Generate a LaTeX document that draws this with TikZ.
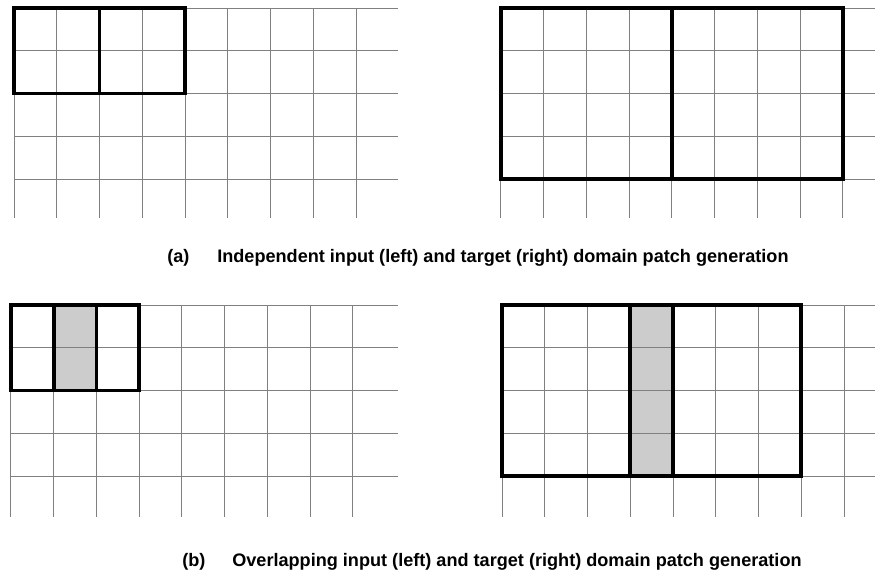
\documentclass[tikz,border=0pt]{standalone}
\usepackage{fontspec}
\setmainfont{Liberation Sans}
\tikzset{
  cell/.style={draw=black!50, line width=0.65pt},
  patch/.style={draw=black, line width=2.6pt},
  overlap/.style={fill=black!20},
  caption/.style={font=\fontsize{12.05}{14}\selectfont\bfseries, inner sep=0pt, anchor=base west}
}
\begin{document}
\begin{tikzpicture}
  \useasboundingbox (0,0) rectangle (20.468,-13.427);
  % (a) input grid with two separate patches
  \foreach \i in {0,...,8} \draw[cell] (0.328+\i,-0.187) -- (0.328+\i,-5.1);
  \foreach \j in {0,...,4} \draw[cell] (0.328,-0.187-\j) -- (9.31,-0.187-\j);
  \draw[patch] (0.328,-0.187) rectangle (4.328,-2.187);
  \draw[patch] (2.328,-0.187) -- (2.328,-2.187);
  % (a) target grid with two separate patches
  \foreach \i in {0,...,8} \draw[cell] (11.719+\i,-0.187) -- (11.719+\i,-5.1);
  \foreach \j in {0,...,4} \draw[cell] (11.719,-0.187-\j) -- (20.468,-0.187-\j);
  \draw[patch] (11.719,-0.187) rectangle (19.719,-4.187);
  \draw[patch] (15.719,-0.187) -- (15.719,-4.187);
  % caption (a)
  \node[caption] (tag-a) at (3.906,-6.152) {(a)};
  \node[caption] (cap-a) at (5.076,-6.152) {Independent input (left) and target (right) domain patch generation};
  % (b) input grid with overlapping patches
  \fill[overlap] (1.257,-7.135) rectangle (2.257,-9.135);
  \foreach \i in {0,...,8} \draw[cell] (0.257+\i,-7.135) -- (0.257+\i,-12.1);
  \foreach \j in {0,...,4} \draw[cell] (0.257,-7.135-\j) -- (9.31,-7.135-\j);
  \draw[patch] (0.257,-7.135) rectangle (3.257,-9.135);
  \draw[patch] (1.257,-7.135) -- (1.257,-9.135);
  \draw[patch] (2.257,-7.135) -- (2.257,-9.135);
  % (b) target grid with overlapping patches
  \fill[overlap] (14.743,-7.135) rectangle (15.743,-11.135);
  \foreach \i in {0,...,8} \draw[cell] (11.743+\i,-7.135) -- (11.743+\i,-12.1);
  \foreach \j in {0,...,4} \draw[cell] (11.743,-7.135-\j) -- (20.468,-7.135-\j);
  \draw[patch] (11.743,-7.135) rectangle (18.743,-11.135);
  \draw[patch] (14.743,-7.135) -- (14.743,-11.135);
  \draw[patch] (15.743,-7.135) -- (15.743,-11.135);
  % caption (b)
  \node[caption] (tag-b) at (4.257,-13.263) {(b)};
  \node[caption] (cap-b) at (5.427,-13.263) {Overlapping input (left) and target (right) domain patch generation};
\end{tikzpicture}
\end{document}
